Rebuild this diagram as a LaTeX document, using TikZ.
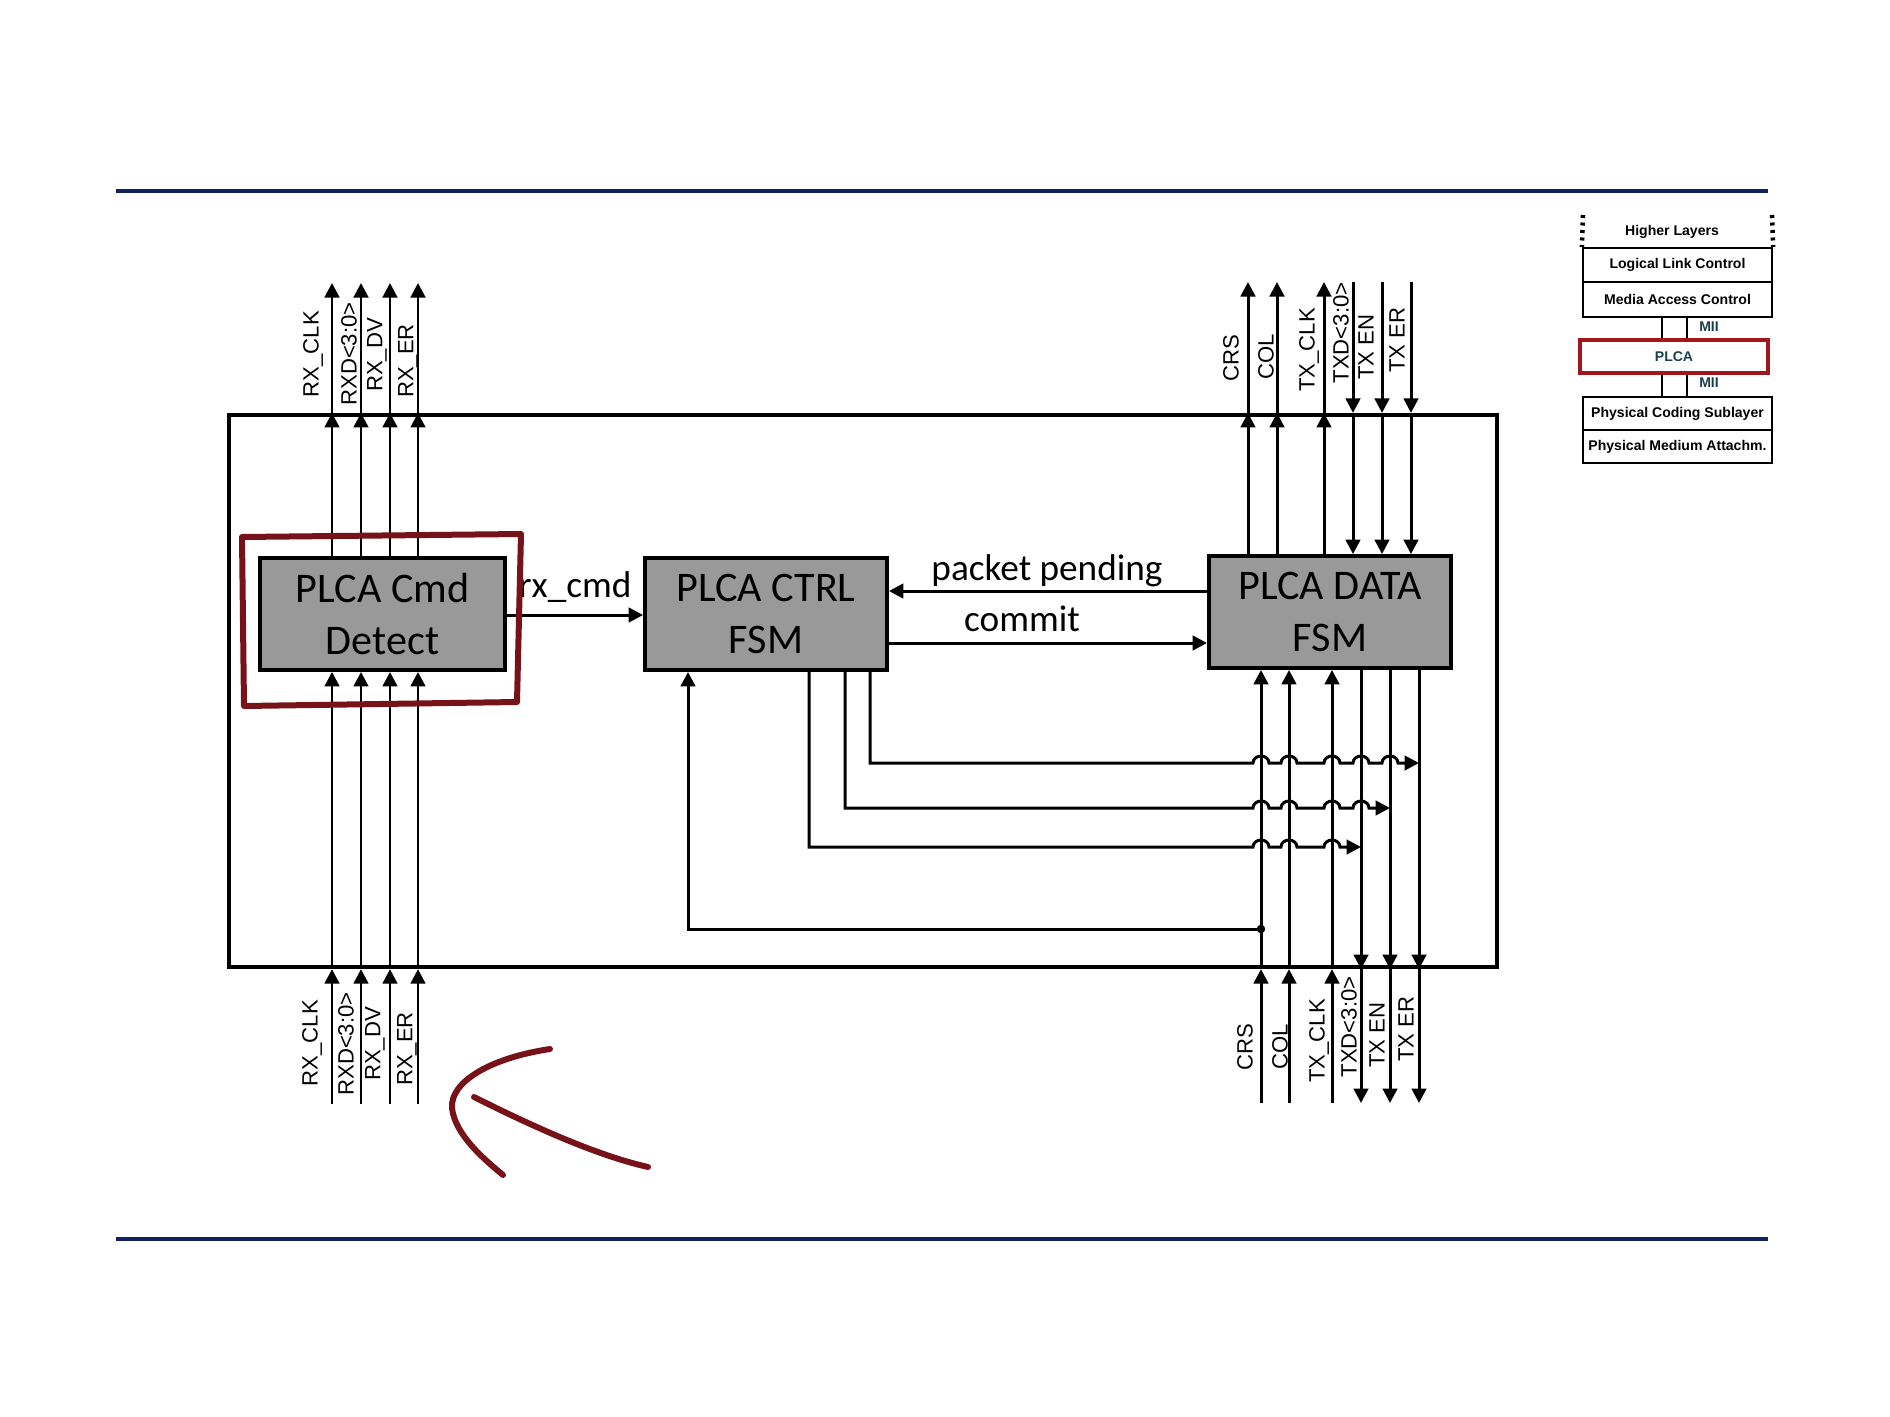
\documentclass[tikz,border=0pt]{standalone}
\usepackage{fontspec}
\setmainfont{Carlito}
\newfontfamily\sigfont{Liberation Sans}
\usetikzlibrary{arrows.meta,positioning,calc}

\definecolor{rulenavy}{RGB}{18,34,96}
\definecolor{penred}{RGB}{118,18,24}
\definecolor{plcared}{RGB}{160,22,28}
\definecolor{plcatext}{RGB}{24,64,74}

\begin{document}
\begin{tikzpicture}[>={Triangle[length=1.45mm,width=1.45mm]},
  sig/.style={line width=0.85pt},
  fsm/.style={draw=black,line width=1.1pt,fill=black!40,minimum width=2.42cm,minimum height=1.12cm,align=center,inner sep=0pt,font=\fontsize{12}{14.7}\selectfont},
  pin/.style={rotate=90,inner sep=0pt,font=\sigfont\fontsize{6.3}{7}\selectfont},
  flow/.style={inner sep=0pt,font=\fontsize{10.6}{12}\selectfont},
  osi/.style={draw=black,line width=0.6pt,minimum width=1.89cm,inner sep=0pt,font=\sigfont\bfseries\fontsize{4}{5}\selectfont},
  pen/.style={draw=penred,line width=0.6mm,line cap=round,line join=round}]
\useasboundingbox (0,0) rectangle (18.9,-14.17);

% slide rules
\coordinate (r1) at (1.16,-1.91);
\coordinate (r2) at (17.68,-1.91);
\coordinate (r3) at (1.16,-12.39);
\coordinate (r4) at (17.68,-12.39);
\draw[rulenavy,line width=0.4mm] (r1) -- (r2);
\draw[rulenavy,line width=0.4mm] (r3) -- (r4);

% blocks
\node[draw,line width=1.2pt,minimum width=12.68cm,minimum height=5.52cm,inner sep=0pt] (blk) at (8.63,-6.91) {};
\node[fsm,minimum width=2.45cm] (cmd) at (3.825,-6.14) {PLCA Cmd\\Detect};
\node[fsm] (ctrl) at (7.66,-6.14) {PLCA CTRL\\FSM};
\node[fsm] (data) at (13.30,-6.12) {PLCA DATA\\FSM};

% between the fsms
\coordinate (rc) at (5,-6.15);
\coordinate (pp) at (10,-5.91);
\coordinate (cm) at (10,-6.43);
\draw[sig,->] (cmd.east |- rc) -- (ctrl.west |- rc);
\draw[sig,->] (data.west |- pp) -- (ctrl.east |- pp);
\draw[sig,->] (ctrl.east |- cm) -- (data.west |- cm);
\node[flow] (lrc) at (5.75,-5.87) {rx\_cmd};
\node[flow] (lpp) at (10.47,-5.71) {packet pending};
\node[flow] (lcm) at (10.22,-6.19) {commit};

% rx side
\foreach \x [count=\i] in {3.32,3.61,3.90,4.18}{
  \coordinate (rxo\i) at (\x,-2.83);
  \coordinate (rxi\i) at (\x,-11.04);
}
\foreach \i in {1,...,4}{
  \draw[sig,->] (cmd.north -| rxo\i) -- (blk.north -| rxo\i);
  \draw[sig,->] (blk.north -| rxo\i) -- (rxo\i);
  \draw[sig,->] (rxi\i) -- (blk.south -| rxi\i);
  \draw[sig,->] (blk.south -| rxi\i) -- (cmd.south -| rxi\i);
}
\foreach \x/\y/\t [count=\i] in {3.13/-3.54/RX\_CLK,3.49/-3.54/RXD<3:0>,3.77/-3.55/RX\_DV,4.08/-3.61/RX\_ER}
  \node[pin] (rxa\i) at (\x,\y) {\t};
\foreach \x/\y/\t [count=\i] in {3.12/-10.43/RX\_CLK,3.46/-10.44/RXD<3:0>,3.75/-10.44/RX\_DV,4.07/-10.49/RX\_ER}
  \node[pin] (rxb\i) at (\x,\y) {\t};

% tx side
\foreach \x [count=\i] in {12.48,12.77,13.24,13.53,13.82,14.11}
  \coordinate (txo\i) at (\x,-2.82);
\foreach \x [count=\i] in {12.61,12.89,13.32,13.61,13.90,14.19}
  \coordinate (txi\i) at (\x,-11.03);
\foreach \i in {1,2,3}{
  \draw[sig,->] (data.north -| txo\i) -- (blk.north -| txo\i);
  \draw[sig,->] (blk.north -| txo\i) -- (txo\i);
  \draw[sig,->] (txi\i) -- (blk.south -| txi\i);
  \draw[sig,->] (blk.south -| txi\i) -- (data.south -| txi\i);
}
\foreach \i in {4,5,6}{
  \draw[sig,->] (txo\i) -- (blk.north -| txo\i);
  \draw[sig,->] (blk.north -| txo\i) -- (data.north -| txo\i);
  \draw[sig,->] (data.south -| txi\i) -- (blk.south -| txi\i);
  \draw[sig,->] (blk.south -| txi\i) -- (txi\i);
}
\foreach \x/\y/\t [count=\i] in {12.31/-3.58/CRS,12.66/-3.57/COL,13.09/-3.50/TX\_CLK,13.41/-3.33/TXD<3:0>,13.66/-3.47/TX EN,13.97/-3.40/TX ER}
  \node[pin] (txa\i) at (\x,\y) {\t};
\foreach \x/\y/\t [count=\i] in {12.45/-10.47/CRS,12.80/-10.47/COL,13.19/-10.41/TX\_CLK,13.49/-10.27/TXD<3:0>,13.77/-10.35/TX EN,14.06/-10.29/TX ER}
  \node[pin] (txb\i) at (\x,\y) {\t};

% ctrl outputs hopping over the tx lines
\coordinate (k1) at (8.70,-7.63);
\coordinate (k2) at (8.45,-8.08);
\coordinate (k3) at (8.09,-8.47);
\coordinate (fb) at (6.88,-9.29);
\draw[sig,->] (ctrl.south -| k1) -- (k1) \foreach \j in {1,...,5}{ -- ($(k1 -| txi\j)+(-0.08,0)$) arc[start angle=180,end angle=0,x radius=0.08,y radius=0.07] } -- (k1 -| txi6);
\draw[sig,->] (ctrl.south -| k2) -- (k2) \foreach \j in {1,...,4}{ -- ($(k2 -| txi\j)+(-0.08,0)$) arc[start angle=180,end angle=0,x radius=0.08,y radius=0.07] } -- (k2 -| txi5);
\draw[sig,->] (ctrl.south -| k3) -- (k3) \foreach \j in {1,...,3}{ -- ($(k3 -| txi\j)+(-0.08,0)$) arc[start angle=180,end angle=0,x radius=0.08,y radius=0.07] } -- (k3 -| txi4);
\node[circle,fill,inner sep=0pt,minimum size=0.85mm] (dot) at (fb -| txi1) {};
\draw[sig,->] (dot.center) -- (fb) -- (ctrl.south -| fb);

% hand marks
\draw[pen] (2.42,-5.37) -- (5.21,-5.34) -- (5.17,-7.02) -- (2.44,-7.06) -- cycle;
\draw[pen] (5.50,-10.49) .. controls (4.90,-10.58) and (4.50,-10.82) .. (4.52,-11.08) .. controls (4.55,-11.35) and (4.85,-11.60) .. (5.03,-11.75);
\draw[pen] (4.74,-10.97) .. controls (5.30,-11.25) and (5.95,-11.55) .. (6.48,-11.67);

% layer stack
\node[osi,minimum height=0.34cm] (llc) at (16.775,-2.65) {Logical Link Control};
\node[osi,minimum height=0.35cm] (mac) at (16.775,-2.995) {Media Access Control};
\node[osi,draw=plcared,line width=0.45mm,minimum width=1.88cm,minimum height=0.33cm,text=plcatext] (plca) at (16.74,-3.565) {PLCA};
\node[osi,minimum height=0.33cm] (pcs) at (16.775,-4.135) {Physical Coding Sublayer};
\node[osi,minimum height=0.33cm] (pma) at (16.775,-4.465) {Physical Medium Attachm.};
\node[osi,draw=none] (hl) at (16.72,-2.32) {Higher Layers};
\coordinate (hl1) at (15.83,-2.15);
\coordinate (hl2) at (17.72,-2.15);
\draw[line width=0.45mm,dash pattern=on 0.3mm off 0.45mm] (hl1) -- (llc.north west);
\draw[line width=0.45mm,dash pattern=on 0.3mm off 0.45mm] (hl2) -- (llc.north east);
\coordinate (m1) at (16.62,-3.2);
\coordinate (m2) at (16.87,-3.2);
\foreach \m in {m1,m2}{
  \draw[line width=0.6pt] (mac.south -| \m) -- (plca.north -| \m);
  \draw[line width=0.6pt] (plca.south -| \m) -- (pcs.north -| \m);
}
\node[osi,draw=none,minimum width=0pt,text=plcatext] (mii1) at (17.09,-3.27) {MII};
\node[osi,draw=none,minimum width=0pt,text=plcatext] (mii2) at (17.09,-3.83) {MII};
\end{tikzpicture}
\end{document}
